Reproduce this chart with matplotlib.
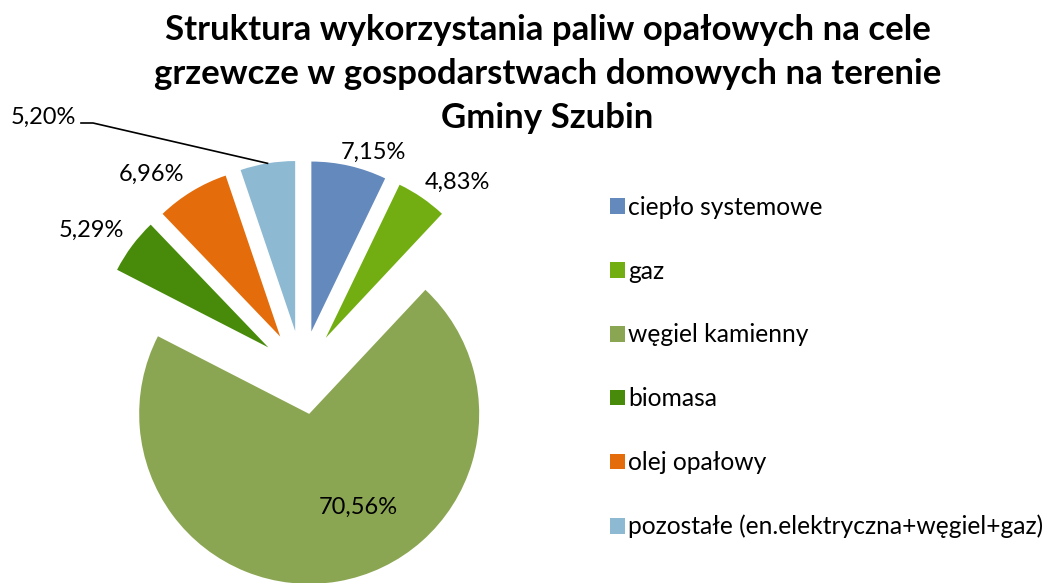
import numpy as np
import matplotlib
matplotlib.use('Agg')
import matplotlib.pyplot as plt

plt.rcParams['font.family'] = ['Lato', 'DejaVu Sans']

# data
categories = ['ciepło systemowe', 'gaz', 'węgiel kamienny', 'biomasa',
              'olej opałowy', 'pozostałe (en.elektryczna+węgiel+gaz)']
shares = [7.15, 4.83, 70.56, 5.29, 6.96, 5.20]
pct_labels = ['7,15%', '4,83%', '70,56%', '5,29%', '6,96%', '5,20%']
colors = ['#6489BD', '#72AE12', '#8BA652', '#488B0B', '#E46C0A', '#8EB9D3']

W, H = 1047, 583
fig = plt.figure(figsize=(W / 100, H / 100), dpi=100)
ax = fig.add_axes([0, 0, 1, 1])

# pie in pixel coordinates (y axis pointing down)
center = (302, 372.5)
R = 170
expl = 42
wedges, _ = ax.pie(shares, colors=colors, center=center, radius=R,
                   explode=[expl] * len(shares), startangle=-90,
                   counterclock=True, wedgeprops=dict(linewidth=0))
ax.set_xlim(0, W)
ax.set_ylim(H, 0)
ax.set_aspect('equal')
ax.axis('off')

# data label positions (pixels)
label_pos = [(373, 152), (457, 182), (358, 507), (91, 230), (152, 174), (43, 117)]
for txt, (x, y) in zip(pct_labels, label_pos):
    ax.text(x, y, txt, ha='center', va='center', fontsize=17, color='black')

# leader line for the last label (to the middle of its arc)
w = wedges[-1]
th = np.deg2rad((w.theta1 + w.theta2) / 2)
ex = w.center[0] + R * np.cos(th)
ey = w.center[1] + R * np.sin(th)
ax.plot([81, 93, ex], [123, 123, ey], color='black', lw=1.2)

fig.text(0.523, 1 - 74 / H,
         'Struktura wykorzystania paliw opałowych na cele\n'
         'grzewcze w gospodarstwach domowych na terenie\n'
         'Gminy Szubin',
         ha='center', va='center', fontsize=25, fontweight='bold',
         linespacing=1.46)

leg = ax.legend(wedges, categories, loc='upper left',
                bbox_to_anchor=(600 / W, 1 - 186 / H), frameon=False,
                fontsize=17.7, handlelength=0.6, handleheight=0.6,
                handletextpad=0.15, labelspacing=1.66, borderaxespad=0)

fig.savefig('out.png', dpi=100)
